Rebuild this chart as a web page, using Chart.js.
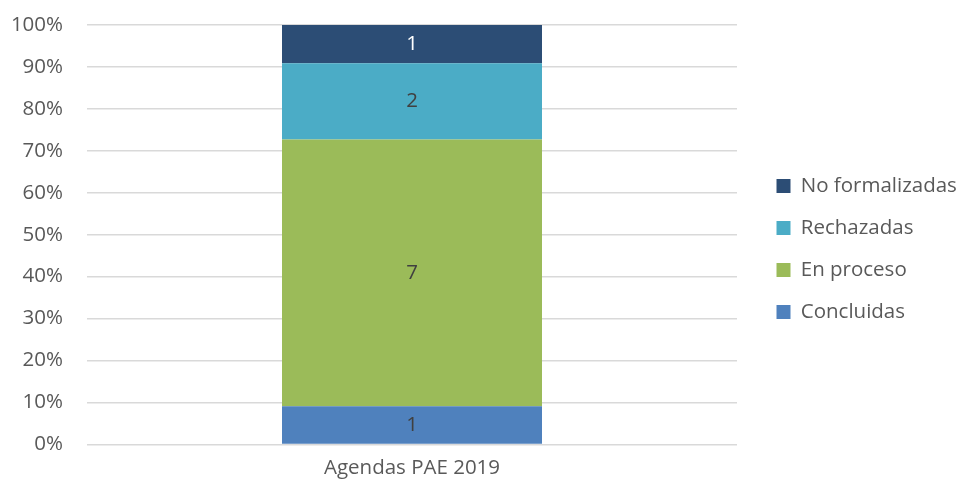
<!DOCTYPE html>
<html lang="es">
<head>
  <meta charset="UTF-8" />
  <title>Agendas PAE 2019</title>
  <script src="https://cdn.jsdelivr.net/npm/chart.js"></script>
  <style>
    body { margin: 0; padding: 0; background: #fff; }
    #wrap { width: 958px; height: 485px; }
  </style>
</head>
<body>
  <div id="wrap"><canvas id="chart" width="958" height="485"></canvas></div>

  <script>
    // data
    const categories = ["Agendas PAE 2019"];
    const seriesNames = ["Concluidas", "En proceso", "Rechazadas", "No formalizadas"];
    const concluidas = [1];
    const enProceso = [7];
    const rechazadas = [2];
    const noFormalizadas = [1];
    const yTicks = [0, 10, 20, 30, 40, 50, 60, 70, 80, 90, 100];

    const colors = ["#4F81BD", "#9BBB59", "#4BACC6", "#2C4D75"];
    const labelColors = ["#404040", "#404040", "#404040", "#ffffff"];
    const counts = [concluidas, enProceso, rechazadas, noFormalizadas];

    // 100% stacked: turn counts into shares of each category's total
    const totals = categories.map((_, i) => counts.reduce((s, c) => s + c[i], 0));

    const datasets = counts.map((c, k) => ({
      label: seriesNames[k],
      data: c.map((v, i) => v / totals[i] * 100),
      raw: c,
      backgroundColor: colors[k],
      borderWidth: 0,
      barPercentage: 0.4,
      categoryPercentage: 1
    }));

    const FONT = "'Open Sans', sans-serif";
    const SIZE = 20.5;

    // small inline plugin for the numbers in the bar segments
    const segmentLabels = {
      id: "segmentLabels",
      afterDatasetsDraw(chart) {
        const ctx = chart.ctx;
        ctx.save();
        ctx.font = SIZE + "px " + FONT;
        ctx.textAlign = "center";
        ctx.textBaseline = "middle";
        chart.data.datasets.forEach((ds, k) => {
          ctx.fillStyle = labelColors[k];
          chart.getDatasetMeta(k).data.forEach((bar, i) => {
            const p = bar.getProps(["x", "y", "base"], true);
            ctx.fillText(String(ds.raw[i]), p.x, (p.y + p.base) / 2);
          });
        });
        ctx.restore();
      }
    };

    // legend: fixed box width, items pushed a bit away from the plot
    const legendPlace = {
      id: "legendPlace",
      beforeLayout(chart) {
        const lg = chart.legend;
        if (lg && !lg._patched) {
          const fit = lg.fit;
          lg.fit = function () { fit.call(this); this.width = 221; };
          lg._patched = true;
        }
      },
      afterLayout(chart) {
        const lg = chart.legend;
        lg.left += 18; lg.right += 18;
        lg.top -= 5; lg.bottom -= 5;
      }
    };

    new Chart(document.getElementById("chart"), {
      type: "bar",
      data: { labels: categories, datasets: datasets },
      plugins: [segmentLabels, legendPlace],
      options: {
        responsive: false,
        animation: false,
        layout: { padding: { left: 10, right: 0, top: 25, bottom: 2 } },
        plugins: {
          tooltip: { enabled: false },
          legend: {
            position: "right",
            reverse: true,
            labels: {
              boxWidth: 14,
              boxHeight: 14,
              padding: 21.5,
              color: "#595959",
              font: { family: FONT, size: SIZE }
            }
          }
        },
        scales: {
          x: {
            stacked: true,
            grid: { display: false },
            border: { display: false },
            ticks: { color: "#595959", padding: 3, font: { family: FONT, size: SIZE } }
          },
          y: {
            stacked: true,
            min: 0,
            max: 100,
            afterBuildTicks(axis) { axis.ticks = yTicks.map(v => ({ value: v })); },
            afterFit(axis) {
              axis.width = 77;
              axis.paddingTop = 0;
              axis.paddingBottom = 0;
            },
            grid: { color: "#d9d9d9", lineWidth: 1.5, drawTicks: false },
            border: { display: false },
            ticks: {
              color: "#595959",
              padding: 24,
              font: { family: FONT, size: SIZE },
              callback: v => v + "%"
            }
          }
        }
      }
    });
  </script>
</body>
</html>
